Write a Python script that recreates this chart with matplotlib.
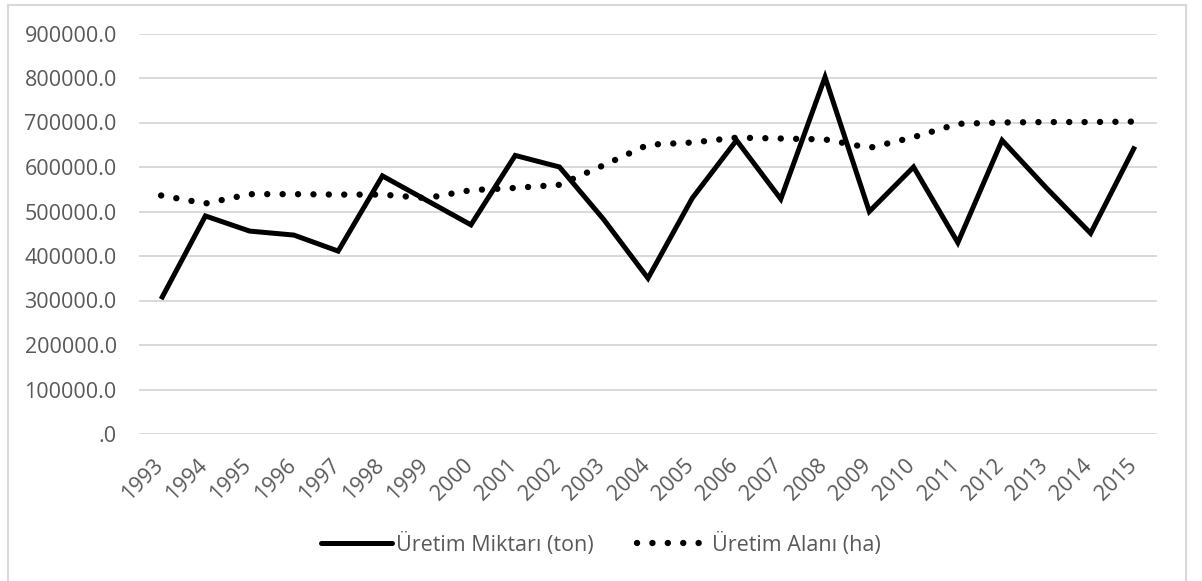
import matplotlib.pyplot as plt
from matplotlib.lines import Line2D
from matplotlib.ticker import FuncFormatter
from matplotlib.transforms import ScaledTranslation

plt.rcParams["font.family"] = ["Open Sans", "DejaVu Sans"]

years = [str(y) for y in range(1993, 2016)]
uretim_miktari = [303000, 490000, 456000, 447000, 411000, 580000, 525000, 470000,
                  626000, 600000, 482000, 350000, 530000, 660000, 528000, 802000,
                  500000, 600000, 430000, 660000, 553000, 451000, 646000]
uretim_alani = [536000, 518000, 539000, 539000, 538000, 538000, 530000, 548000,
                553000, 560000, 604000, 650000, 655000, 666000, 664000, 662000,
                643000, 667000, 697000, 700000, 701000, 701000, 702000]
yticks = list(range(0, 900001, 100000))

fig = plt.figure(figsize=(12.02, 5.81), dpi=100)
ax = fig.add_axes([139 / 1202, 1 - 434 / 581, (1157 - 139) / 1202, (434 - 33.5) / 581])

ax.plot(years, uretim_miktari, color="black", lw=3.6, solid_joinstyle="miter",
        solid_capstyle="butt", label="Üretim Miktarı (ton)", zorder=3)
ax.plot(years, uretim_alani, color="black", lw=4.6, linestyle=(0, (0.01, 2.4)),
        dash_capstyle="round", label="Üretim Alanı (ha)", zorder=3)

ax.set_xlim(-0.5, len(years) - 0.5)
ax.set_ylim(0, 900000)
ax.set_yticks(yticks)
ax.yaxis.set_major_formatter(FuncFormatter(lambda v, p: f"{v:.1f}".lstrip("0") or ".0"))
ax.grid(axis="y", color="#d9d9d9", lw=1.4)
ax.set_axisbelow(True)
for s in ax.spines.values():
    s.set_visible(False)
ax.tick_params(axis="both", length=0, labelsize=15.5, labelcolor="#595959")
ax.tick_params(axis="y", pad=16)
ax.tick_params(axis="x", pad=15)
ax.set_xticks(range(len(years)), years, rotation=45, ha="right", va="top")
shift = ScaledTranslation(6 / 100, 0, fig.dpi_scale_trans)
for lab in ax.get_xticklabels():
    lab.set_transform(lab.get_transform() + shift)

h1 = Line2D([], [], color="black", lw=3.6, solid_capstyle="round")
h2 = Line2D([], [], color="black", lw=4.6, linestyle=(0, (0.01, 2.4)), dash_capstyle="round")
fig.legend([h1, h2], ["Üretim Miktarı (ton)", "Üretim Alanı (ha)"],
           loc="center", bbox_to_anchor=(0.5, 1 - 544 / 581), ncol=2, frameon=False,
           fontsize=15.5, labelcolor="#595959", handlelength=3.3, handletextpad=0.2,
           columnspacing=2.0)

# outer chart border
bc = "#d9d9d9"
fig.add_artist(Line2D([8 / 1202, 8 / 1202], [0, 1 - 5 / 581], color=bc, lw=1.5))
fig.add_artist(Line2D([8 / 1202, 1186 / 1202], [1 - 5 / 581, 1 - 5 / 581], color=bc, lw=1.5))
fig.add_artist(Line2D([1186 / 1202, 1186 / 1202], [0, 1 - 5 / 581], color=bc, lw=1.5))

fig.savefig("out.png", dpi=100)
